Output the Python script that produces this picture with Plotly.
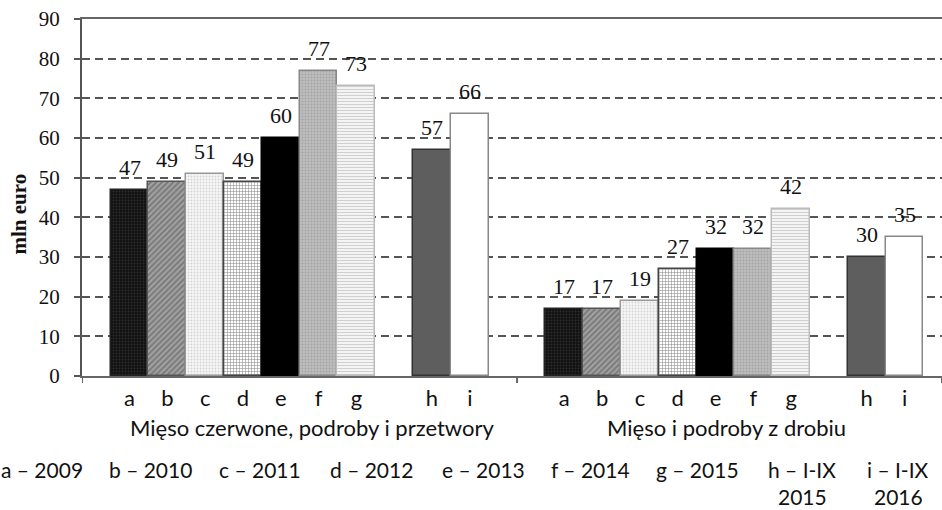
import plotly.graph_objects as go

letters = ["a", "b", "c", "d", "e", "f", "g", "h", "i"]
slot_index = [0, 1, 2, 3, 4, 5, 6, 8, 9]
group_names = ["Mięso czerwone, podroby i przetwory", "Mięso i podroby z drobiu"]
red_meat = [47, 49, 51, 49, 60, 77, 73, 57, 66]
poultry = [17, 17, 19, 27, 32, 32, 42, 30, 35]
legend_line1 = ["a – 2009", "b – 2010", "c – 2011", "d – 2012", "e – 2013",
                "f – 2014", "g – 2015", "h – I-IX", "i – I-IX"]
legend_line2 = ["", "", "", "", "", "", "", "2015", "2016"]
y_ticks = [0, 10, 20, 30, 40, 50, 60, 70, 80, 90]
y_title = "mln euro"

GROUP_OFFSET = 11.5
GROUP_LABEL_POS = [4.83, 4.3]
PLOT_TOP, PLOT_BOTTOM, PLOT_LEFT, W = 19, 376, 82, 942
PH = PLOT_BOTTOM - PLOT_TOP
PW = W - PLOT_LEFT


def py(pix):
    return (PLOT_BOTTOM - pix) / PH


def px(pix):
    return (pix - PLOT_LEFT) / PW


styles = [
    dict(color="#111111", pattern=dict(shape=".", fgcolor="#4a4a4a", bgcolor="#111111", size=3, solidity=0.3)),
    dict(color="#777777", pattern=dict(shape="/", fgcolor="#4a4a4a", bgcolor="#a0a0a0", size=4, solidity=0.4)),
    dict(color="#eeeeee", pattern=dict(shape=".", fgcolor="#b0b0b0", bgcolor="#f6f6f6", size=3, solidity=0.3)),
    dict(color="#ffffff", pattern=dict(shape="+", fgcolor="#222222", bgcolor="#ffffff", size=3, solidity=0.35)),
    dict(color="#000000", pattern=dict(shape="")),
    dict(color="#b5b5b5", pattern=dict(shape=".", fgcolor="#8a8a8a", bgcolor="#bdbdbd", size=3, solidity=0.3)),
    dict(color="#e8e8e8", pattern=dict(shape="-", fgcolor="#aaaaaa", bgcolor="#f4f4f4", size=3, solidity=0.35)),
    dict(color="#5e5e5e", pattern=dict(shape="")),
    dict(color="#ffffff", pattern=dict(shape="")),
]
line_colors = ["#222", "#555", "#999", "#444", "#000", "#888", "#bbb", "#333", "#888"]

fig = go.Figure()
for gi, values in enumerate([red_meat, poultry]):
    for k, letter in enumerate(letters):
        xpos = gi * GROUP_OFFSET + slot_index[k]
        fig.add_trace(go.Bar(
            x=[xpos], y=[values[k]], width=1.0,
            marker=dict(color=styles[k]["color"], pattern=styles[k]["pattern"],
                        line=dict(color=line_colors[k], width=1.5)),
            showlegend=False, hoverinfo="skip",
        ))
        fig.add_annotation(x=xpos, y=values[k], xref="x", yref="y", text=str(values[k]),
                           showarrow=False, yanchor="bottom", yshift=8,
                           font=dict(family="Liberation Serif", size=22, color="#111"))

tickvals = [gi * GROUP_OFFSET + s for gi in range(2) for s in slot_index]
ticktext = letters * 2

fig.update_layout(
    width=W, height=510,
    margin=dict(l=PLOT_LEFT, r=0, t=PLOT_TOP, b=510 - PLOT_BOTTOM),
    plot_bgcolor="white", paper_bgcolor="white",
    barmode="overlay", bargap=0,
    xaxis=dict(range=[-1.257, 21.49], tickvals=tickvals, ticktext=ticktext,
               tickfont=dict(family="Lato", size=22, color="#111"),
               ticklabelstandoff=2,
               showline=True, linecolor="#666", linewidth=2, mirror=True,
               showgrid=False, ticks="", zeroline=False, automargin=False),
    yaxis=dict(range=[0, 90], tickvals=y_ticks, showline=True, linecolor="#555", linewidth=2,
               ticks="outside", ticklen=6, tickcolor="#555", tickwidth=2,
               ticklabelstandoff=10,
               tickfont=dict(family="Liberation Serif", size=21, color="#111"),
               showgrid=True, gridcolor="#555", griddash="8px,5px", gridwidth=2,
               zeroline=False, automargin=False),
)

# y axis title
fig.add_annotation(x=px(18.5), y=py(214), xref="paper", yref="paper",
                   text="<b>" + y_title + "</b>", textangle=-90, showarrow=False,
                   xanchor="center", yanchor="middle",
                   font=dict(family="Liberation Serif", size=21, color="#111"))

# group divider ticks on the x axis
divider = (slot_index[-1] + 0.5 + GROUP_OFFSET - 0.5) / 2
for xb in [-1.257, divider, 21.49]:
    fig.add_shape(type="line", xref="x", yref="paper", x0=xb, x1=xb, y0=0, y1=py(383),
                  line=dict(color="#666", width=2))

# group labels
for gi, name in enumerate(group_names):
    center = gi * GROUP_OFFSET + GROUP_LABEL_POS[gi]
    fig.add_annotation(x=center, xref="x", y=py(427), yref="paper", text=name,
                       showarrow=False, yanchor="middle",
                       font=dict(family="Lato", size=22, color="#111"))

# legend text below
legend_x = [42, 150, 260, 371, 483, 590, 697, 802, 898]
for lx, l1, l2 in zip(legend_x, legend_line1, legend_line2):
    fig.add_annotation(x=px(lx), xref="paper", y=py(469), yref="paper",
                       text=l1, showarrow=False, yanchor="middle", xanchor="center",
                       font=dict(family="Lato", size=21, color="#111"))
    if l2:
        fig.add_annotation(x=px(lx), xref="paper", y=py(496), yref="paper",
                           text=l2, showarrow=False, yanchor="middle", xanchor="center",
                           font=dict(family="Lato", size=21, color="#111"))

fig.write_html("out.html", config={"displayModeBar": False},
               post_script="document.body.style.margin='0';document.body.style.overflow='hidden';")
